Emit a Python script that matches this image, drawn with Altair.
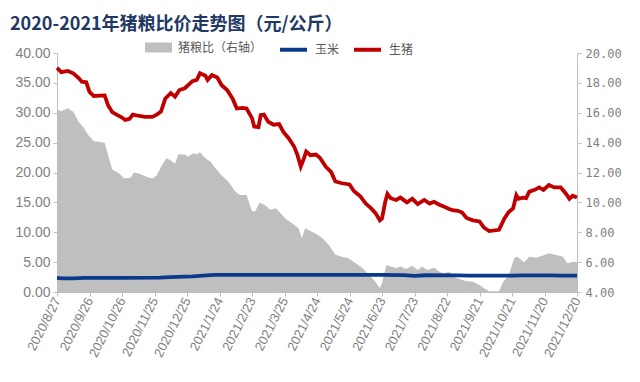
import altair as alt
import pandas as pd

START = pd.Timestamp("2020-08-27")

# 生猪 (元/公斤): days since 2020-08-27, price
pig_days = [0, 4, 10, 15, 20, 23, 27, 30, 34, 44, 47, 51, 55, 60, 63, 67, 70, 75, 81, 88,
            92, 96, 100, 105, 109, 113, 118, 125, 129, 132, 137, 139, 143, 148, 152, 157,
            162, 166, 171, 175, 180, 182, 186, 188, 191, 195, 200, 205, 209, 214, 219, 222,
            225, 228, 230, 234, 239, 243, 248, 253, 257, 263, 270, 274, 280, 285, 290, 294,
            298, 300, 303, 305, 308, 313, 317, 323, 328, 333, 339, 344, 348, 353, 357, 362,
            365, 370, 374, 378, 384, 390, 394, 399, 408, 413, 417, 421, 424, 426, 430, 433,
            436, 441, 445, 449, 454, 459, 465, 470, 473, 476, 480]
pig_price = [37.5, 36.8, 37.0, 36.6, 35.8, 35.2, 35.1, 33.5, 32.8, 32.9, 31.3, 30.1, 29.7,
             29.2, 28.8, 29.0, 29.7, 29.5, 29.3, 29.3, 29.7, 30.2, 32.4, 33.3, 32.7, 33.8,
             34.1, 35.3, 35.5, 36.6, 36.2, 35.5, 36.3, 35.9, 34.6, 33.8, 32.4, 30.7, 30.8,
             30.7, 29.1, 27.7, 27.6, 29.6, 29.7, 28.5, 28.0, 28.1, 26.8, 25.7, 24.3, 22.9,
             21.0, 22.4, 23.5, 22.9, 23.0, 22.4, 21.0, 20.1, 18.5, 18.2, 18.0, 16.9, 16.0,
             14.8, 14.0, 13.2, 12.0, 12.3, 15.1, 16.4, 15.7, 15.4, 15.8, 15.0, 15.6, 14.7,
             15.4, 14.8, 15.1, 14.6, 14.3, 13.9, 13.7, 13.6, 13.3, 12.4, 12.0, 11.8, 10.8,
             10.2, 10.4, 12.3, 13.4, 14.0, 16.2, 15.6, 15.8, 15.7, 16.8, 17.1, 17.5, 17.1,
             17.9, 17.5, 17.5, 16.4, 15.6, 16.1, 15.8]

# 玉米 (元/公斤)
corn_days = [0, 5, 15, 25, 60, 95, 105, 125, 135, 145, 175, 240, 300, 320, 330, 340, 370,
             380, 420, 430, 455, 465, 480]
corn_price = [2.35, 2.28, 2.28, 2.35, 2.38, 2.42, 2.5, 2.6, 2.75, 2.85, 2.85, 2.85, 2.85,
              2.82, 2.7, 2.8, 2.78, 2.73, 2.73, 2.79, 2.79, 2.73, 2.73]

# 猪粮比 (右轴)
ratio_days = [0, 4, 10, 15, 20, 24, 29, 34, 44, 47, 51, 55, 58, 62, 68, 71, 77, 83, 88, 92,
              97, 101, 105, 109, 112, 118, 121, 126, 129, 132, 137, 142, 146, 152, 158, 165,
              169, 175, 180, 183, 187, 192, 197, 202, 206, 211, 217, 223, 226, 229, 234, 239,
              245, 251, 257, 263, 269, 276, 282, 288, 294, 298, 300, 304, 308, 313, 317, 322,
              328, 333, 337, 342, 348, 353, 357, 362, 368, 377, 384, 390, 394, 399, 408, 412,
              417, 422, 425, 431, 436, 442, 448, 454, 461, 467, 471, 476, 480]
ratio_vals = [16.2, 16.1, 16.3, 16.07, 15.4, 15.06, 14.5, 14.1, 14.0, 13.2, 12.2, 12.05,
              11.9, 11.6, 11.65, 12.0, 11.9, 11.7, 11.6, 11.8, 12.5, 12.95, 12.8, 12.6, 13.2,
              13.2, 13.05, 13.3, 13.2, 13.35, 12.95, 12.7, 12.3, 11.8, 11.4, 10.7, 10.5, 10.5,
              9.4, 9.4, 10.0, 9.8, 9.5, 9.6, 9.3, 8.9, 8.6, 8.26, 7.6, 8.26, 8.08, 7.9, 7.6,
              7.15, 6.5, 6.36, 6.26, 5.9, 5.6, 5.14, 4.69, 4.25, 4.58, 5.8, 5.7, 5.6, 5.7,
              5.54, 5.76, 5.47, 5.7, 5.47, 5.63, 5.36, 5.25, 5.36, 4.96, 4.74, 4.69, 4.47,
              4.25, 4.05, 4.05, 4.69, 5.14, 6.26, 6.36, 6.0, 6.36, 6.3, 6.43, 6.59, 6.48,
              6.36, 5.92, 6.03, 5.99]

tick_labels = ["2020/8/27", "2020/9/26", "2020/10/26", "2020/11/25", "2020/12/25",
               "2021/1/24", "2021/2/23", "2021/3/25", "2021/4/24", "2021/5/24", "2021/6/23",
               "2021/7/23", "2021/8/22", "2021/9/21", "2021/10/21", "2021/11/20", "2021/12/20"]

S_RATIO, S_CORN, S_PIG = "猪粮比（右轴）", "玉米", "生猪"


def dates(days):
    return [(START + pd.Timedelta(days=d)).strftime("%Y-%m-%dT00:00:00") for d in days]


lines_df = pd.concat([
    pd.DataFrame({"date": dates(corn_days), "value": corn_price, "series": S_CORN}),
    pd.DataFrame({"date": dates(pig_days), "value": pig_price, "series": S_PIG}),
])
ratio_df = pd.DataFrame({"date": dates(ratio_days), "value": ratio_vals, "series": S_RATIO})


def dt(s):
    y, m, d = [int(v) for v in s.split("/")]
    return alt.DateTime(year=y, month=m, date=d)


tick_values = [dt(s) for s in tick_labels]

AX = "#bfbfbf"
LBL = "#7f7f7f"

x_enc = alt.X(
    "date:T",
    scale=alt.Scale(domain=[tick_values[0], tick_values[-1]]),
    axis=alt.Axis(values=tick_values, format="%Y/%-m/%-d", labelAngle=-63, title=None,
                  grid=False, domainColor=AX, tickColor=AX, tickSize=4,
                  labelColor=LBL, labelFontSize=13, labelFont="Liberation Sans",
                  labelPadding=2, labelOverlap=False, labelFlush=False),
)

legend_common = dict(
    orient="none", direction="horizontal", title=None,
    labelFont="Noto Sans CJK SC", labelFontSize=12, labelColor="#595959",
    symbolSize=729, labelOffset=6, legendY=-19,
)

area = alt.Chart(ratio_df).mark_area(opacity=1, interpolate="linear").encode(
    x=x_enc,
    y=alt.Y("value:Q", scale=alt.Scale(domain=[4, 20], zero=False, nice=False),
            axis=alt.Axis(orient="right", values=list(range(4, 21, 2)), format=".2f",
                          title=None, grid=False, domainColor=AX, tickColor=AX, tickSize=4,
                          labelColor=LBL, labelFontSize=12, labelFont="DejaVu Sans Mono",
                          labelPadding=4)),
    y2=alt.datum(4),
    fill=alt.Fill("series:N", scale=alt.Scale(domain=[S_RATIO], range=["#bfbfbf"]),
                  legend=alt.Legend(legendX=88, symbolType="M-1,-0.37H1V0.37H-1Z",
                                    symbolStrokeWidth=0, symbolOpacity=1, **legend_common)),
)

lines = alt.Chart(lines_df).mark_line(strokeWidth=3.8, interpolate="linear").encode(
    x=x_enc,
    y=alt.Y("value:Q", scale=alt.Scale(domain=[0, 40], nice=False),
            axis=alt.Axis(orient="left", values=list(range(0, 41, 5)), format=".2f",
                          title=None, grid=False, domainColor=AX, tickColor=AX, tickSize=4,
                          labelColor=LBL, labelFontSize=14, labelFont="Liberation Sans",
                          labelPadding=3)),
    stroke=alt.Stroke("series:N",
                      scale=alt.Scale(domain=[S_CORN, S_PIG], range=["#0B3A8C", "#C00000"]),
                      legend=alt.Legend(legendX=221, symbolType="stroke", symbolStrokeWidth=4,
                                        columnPadding=6, **legend_common)),
)

chart = alt.layer(area, lines).resolve_scale(y="independent").properties(
    width=520,
    height=239,
    autosize=alt.AutoSizeParams(type="none"),
    padding={"left": 49, "top": 45, "right": 55, "bottom": 82},
    title=alt.TitleParams(
        "2020-2021年猪粮比价走势图（元/公斤）",
        anchor="start", frame="group", dx=-47, fontSize=18, fontWeight="bold",
        font="Noto Sans CJK SC", color="#1F3864", offset=0,
    ),
).configure_view(stroke=None)

chart.save("out.html", embed_options={"renderer": "svg", "actions": False})
